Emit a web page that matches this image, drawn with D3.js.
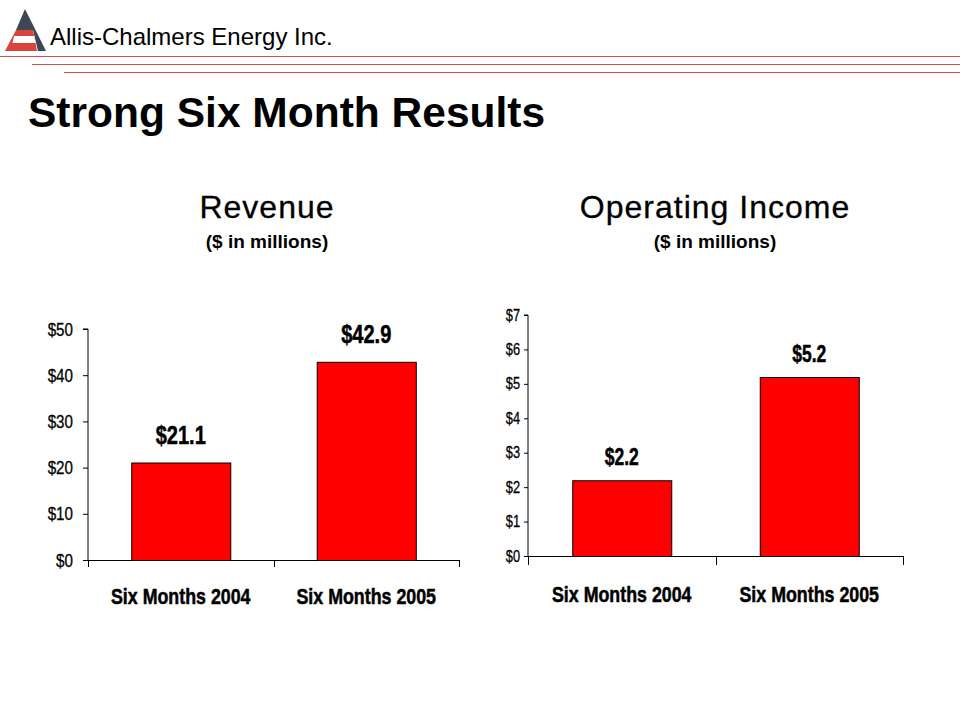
<!DOCTYPE html>
<html><head><meta charset="utf-8">
<script src="https://cdn.jsdelivr.net/npm/d3@7/dist/d3.min.js"></script>
<style>
html,body{margin:0;padding:0;background:#fff;}
svg{display:block;}
text{font-family:"Liberation Sans",Arial,sans-serif;}
</style></head>
<body>
<svg id="c" width="960" height="720"></svg>
<script>
const categories = ["Six Months 2004", "Six Months 2005"];
const revenueValues = [21.1, 42.9];
const revenueLabels = ["$21.1", "$42.9"];
const revenueTicks = [0, 10, 20, 30, 40, 50];
const incomeValues = [2.2, 5.2];
const incomeLabels = ["$2.2", "$5.2"];
const incomeTicks = [0, 1, 2, 3, 4, 5, 6, 7];

const svg = d3.select("#c");
const RED_LINE = "#d0504a";

// Logo
const logo = svg.append("g");
logo.append("polygon").attr("points","25,9 46,51 38,51 33,30 16,30").attr("fill","#3e4754");
logo.append("polygon").attr("points","16,30 33,30 37,51 5,51").attr("fill","#d9443c");
logo.append("polygon").attr("points","14,36 34.2,36 35.6,43 12.5,43").attr("fill","#fff");

svg.append("text").attr("x",50).attr("y",45)
  .style("font-size","24px").attr("fill","#000")
  .text("Allis-Chalmers Energy Inc.");

[[0,56],[32,64],[64,72]].forEach(([x0,y])=>{
  svg.append("line").attr("x1",x0).attr("x2",960).attr("y1",y+0.5).attr("y2",y+0.5)
    .attr("stroke",RED_LINE).attr("stroke-width",1.2);
});

svg.append("text").attr("x",28).attr("y",127)
  .style("font-size","42.5px").style("font-weight","bold")
  .text("Strong Six Month Results");

function narrow(sel, fx, fy, sx){
  sel.attr("x",0).attr("y",0)
    .attr("transform",(d,i)=>`translate(${fx(d,i)},${fy(d,i)}) scale(${sx},1)`);
}

function chart(opt){
  const g = svg.append("g");
  g.append("text").attr("x",opt.titleX).attr("y",218).attr("text-anchor","middle")
    .style("font-size","32px").style("letter-spacing","1px")
    .attr("stroke","#000").attr("stroke-width",0.3)
    .text(opt.title);
  g.append("text").attr("x",opt.titleX).attr("y",248).attr("text-anchor","middle")
    .style("font-size","19px").style("font-weight","bold")
    .text("($ in millions)");

  const x = d3.scaleBand().domain(categories).range([opt.x0, opt.x1])
    .paddingInner(opt.pad).paddingOuter(opt.pad/2);
  const y = d3.scaleLinear().domain([0, d3.max(opt.ticks)]).range([opt.y0, opt.y1]);

  const yAxis = d3.axisLeft(y).tickValues(opt.ticks).tickFormat(d=>"$"+d)
    .tickSize(opt.tickSize).tickPadding(opt.tickPad);
  const ya = g.append("g").attr("transform",`translate(${opt.x0},0)`).call(yAxis);
  ya.select(".domain").attr("stroke","#000").attr("d",`M${-opt.tickSize},${opt.y1}H0V${opt.y0}`);
  ya.selectAll(".tick line").attr("stroke","#000");
  ya.selectAll(".tick text").attr("fill","#000")
    .style("font-size",opt.tickFont+"px").style("font-family",null)
    .attr("stroke","#000").attr("stroke-width",0.3)
    .attr("x",0)
    .attr("transform",`translate(${-(opt.tickSize+opt.tickPad)},0) scale(${opt.tickScale},1)`);

  // bars
  g.selectAll("rect.bar").data(opt.values).join("rect").attr("class","bar")
    .attr("x",(d,i)=>x(categories[i])+0.5).attr("width",x.bandwidth())
    .attr("y",d=>y(d)+0.5).attr("height",d=>opt.y0-y(d))
    .attr("fill","#ff0000").attr("stroke","#000").attr("stroke-width",1);

  // x axis
  const step = x.step();
  g.append("line").attr("x1",opt.x0).attr("x2",opt.x1).attr("y1",opt.y0+0.5).attr("y2",opt.y0+0.5).attr("stroke","#000");
  d3.range(categories.length+1).forEach(i=>{
    const xx = Math.round(opt.x0 + i*step)+0.5;
    g.append("line").attr("x1",xx).attr("x2",xx).attr("y1",opt.y0).attr("y2",opt.y0+opt.xTick).attr("stroke","#000");
  });

  const vals = g.selectAll("text.val").data(opt.values).join("text").attr("class","val")
    .attr("text-anchor","middle").style("font-size",opt.valFont+"px").style("font-weight","bold")
    .attr("stroke","#000").attr("stroke-width",0.5)
    .text((d,i)=>opt.labels[i]);
  narrow(vals,(d,i)=>x(categories[i])+x.bandwidth()/2, d=>y(d)-opt.valGap, opt.valScale);

  const cats = g.selectAll("text.cat").data(categories).join("text").attr("class","cat")
    .attr("text-anchor","middle").style("font-size","22px").style("font-weight","bold")
    .attr("stroke","#000").attr("stroke-width",0.5)
    .text(d=>d);
  narrow(cats, d=>x(d)+x.bandwidth()/2, ()=>opt.catY, 0.81);
}

chart({title:"Revenue", titleX:267, x0:88, x1:459, y0:560, y1:329, pad:0.466,
  values:revenueValues, labels:revenueLabels, ticks:revenueTicks,
  tickSize:5, tickPad:10, tickFont:19, tickScale:0.8, xTick:7, valGap:19, valFont:26, valScale:0.77, catY:604});
chart({title:"Operating Income", titleX:715, x0:528, x1:903, y0:556, y1:315, pad:0.472,
  values:incomeValues, labels:incomeLabels, ticks:incomeTicks,
  tickSize:4, tickPad:4, tickFont:16, tickScale:0.8, xTick:9, valGap:15, valFont:23, valScale:0.76, catY:602});
</script>
</body></html>
